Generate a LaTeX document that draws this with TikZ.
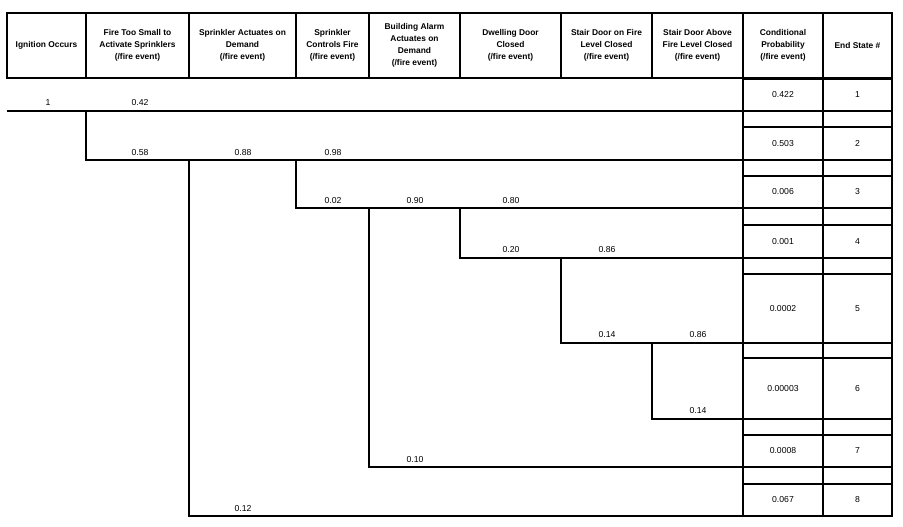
\documentclass[tikz,border=0pt]{standalone}
\usepackage{fontspec}
\setmainfont{Liberation Sans}
\usetikzlibrary{positioning}
\tikzset{
    x=0.75pt, y=-0.75pt,
    head/.style={
        draw, line width=1.1pt,
        minimum height=48.75pt,
        align=center,
        inner sep=1pt,
        font=\fontsize{6.3}{9}\selectfont\bfseries
    },
    box/.style={draw, line width=0.9pt},
    prob/.style={font=\fontsize{6.5}{8}\selectfont},
    branch/.style={line width=0.9pt}
}

\begin{document}
\begin{tikzpicture}
    \useasboundingbox (0,0) rectangle (903,527);

    % header row
    \foreach \cx/\w/\txt [count=\i] in {
        46.5/59.25/{Ignition Occurs},
        137.5/77.25/{Fire Too Small to\\Activate Sprinklers\\(/fire event)},
        242.5/80.25/{Sprinkler Actuates on\\Demand\\(/fire event)},
        332.5/54.75/{Sprinkler\\Controls Fire\\(/fire event)},
        414.5/68.25/{Building Alarm\\Actuates on\\Demand\\(/fire event)},
        510.5/75.75/{Dwelling Door\\Closed\\(/fire event)},
        606.5/68.25/{Stair Door on Fire\\Level Closed\\(/fire event)},
        697.5/68.25/{Stair Door Above\\Fire Level Closed\\(/fire event)},
        783/60/{Conditional\\Probability\\(/fire event)},
        857.5/51.75/{End State \#}}
        \node[head, minimum width=\w pt] (h\i) at (\cx,45.5) {\txt};

    % end state boxes
    \foreach \top/\bot/\pv [count=\i] in {
        79/111/0.422, 127/160/0.503, 176/208/0.006, 225/258/0.001,
        274/343/0.0002, 358/419/0.00003, 435/467/0.0008, 484/516/0.067} {
        \draw[box] (743,\top) rectangle (823,\bot);
        \draw[box] (823,\top) rectangle (892,\bot);
        \node[prob] (p\i) at (783,{(\top+\bot)/2}) {\pv};
        \node[prob] (e\i) at (857.5,{(\top+\bot)/2}) {\i};
    }
    \foreach \top/\bot in {111/127, 160/176, 208/225, 258/274, 343/358, 419/435, 467/484} {
        \draw[box] (743,\top) rectangle (823,\bot);
        \draw[box] (823,\top) rectangle (892,\bot);
    }

    % branch points
    \coordinate (start) at (7,111);
    \coordinate (a) at (86,111);
    \coordinate (b) at (189,160);
    \coordinate (c) at (296,160);
    \coordinate (d) at (369,208);
    \coordinate (f) at (460,208);
    \coordinate (g) at (561,258);
    \coordinate (k) at (652,343);

    % tree
    \draw[branch] (start) -- (743,111);
    \draw[branch] (a) |- (743,160);
    \draw[branch] (b) |- (743,516);
    \draw[branch] (c) |- (743,208);
    \draw[branch] (d) |- (743,467);
    \draw[branch] (f) |- (743,258);
    \draw[branch] (g) |- (743,343);
    \draw[branch] (k) |- (743,419);

    % branch values
    \foreach \lx/\ly/\v in {
        48/103/1, 140/103/0.42, 140/153/0.58, 243/153/0.88, 333/153/0.98,
        333/201/0.02, 415/201/0.90, 511/201/0.80, 511/250/0.20, 607/250/0.86,
        607/335/0.14, 698/335/0.86, 698/411/0.14, 415/460/0.10, 243/509/0.12}
        \node[prob] at (\lx,\ly) {\v};
\end{tikzpicture}
\end{document}
